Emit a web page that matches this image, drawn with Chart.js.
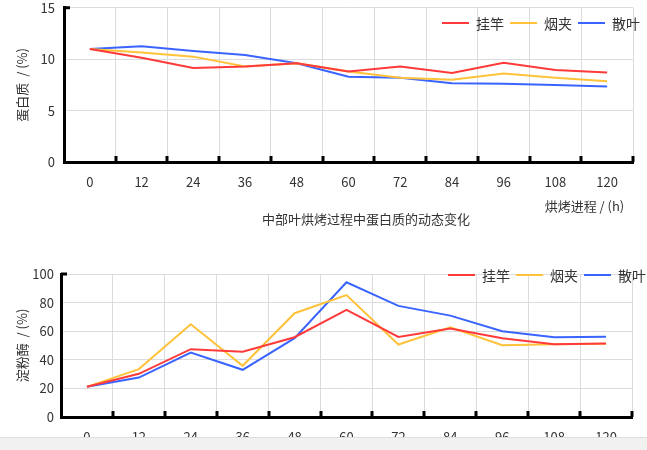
<!DOCTYPE html>
<html>
<head>
<meta charset="utf-8">
<script src="https://cdn.jsdelivr.net/npm/chart.js@4/dist/chart.umd.min.js"></script>
<style>
  body{margin:0;width:647px;height:450px;overflow:hidden;background:#fff;position:relative;font-family:'Noto Sans CJK SC',sans-serif;color:#333}
  canvas{position:absolute;left:0}
  #c1{top:-9px}
  #c2{top:230px}
  .legend{position:absolute;display:flex;align-items:center;font-size:14px;line-height:18px;white-space:nowrap}
  .legend .ln{display:inline-block;width:27px;height:2px;margin-right:7px}
  .legend .tx{margin-right:6px}
  #caption{position:absolute;left:262px;top:210px;font-size:13px;line-height:18px}
  #bar{position:absolute;left:0;top:437px;width:647px;height:13px;background:#f1f1f1;border-top:1px solid #dedede}
</style>
</head>
<body>
<canvas id="c1" width="647" height="239"></canvas>
<canvas id="c2" width="647" height="220"></canvas>
<div class="legend" id="lg1" style="left:442px;top:14px"></div>
<div class="legend" id="lg2" style="left:448px;top:266px"></div>
<div id="caption">中部叶烘烤过程中蛋白质的动态变化</div>
<div id="bar"></div>
<script>
const hours = ['0','12','24','36','48','60','72','84','96','108','120'];
const seriesNames = ['挂竿','烟夹','散叶'];
const seriesColors = ['#ff3a3a','#ffc23a','#3a64ff'];

// 蛋白质 (%)
const proteinGuagan = [11.0,10.15,9.15,9.3,9.6,8.8,9.3,8.65,9.65,8.95,8.7];
const proteinYanjia = [11.0,10.65,10.25,9.3,9.6,8.8,8.2,8.0,8.6,8.2,7.85];
const proteinSanye  = [11.0,11.25,10.8,10.4,9.6,8.3,8.2,7.65,7.6,7.5,7.35];

// 淀粉酶 (%)
const amylaseGuagan = [21.1,30.2,47.4,45.6,55.8,74.9,56.0,61.8,55.1,50.9,51.4];
const amylaseYanjia = [21.1,33.5,64.9,35.8,72.6,85.3,50.7,62.8,50.2,50.9,51.2];
const amylaseSanye  = [21.1,27.6,45.1,33.0,55.1,94.2,77.7,70.9,60.0,55.8,56.2];

const FONT = "'Noto Sans CJK SC', sans-serif";

// short black tick marks pointing into the plot, at category boundaries
const innerTicks = {
  id:'innerTicks',
  afterDraw(chart){
    const {ctx, chartArea:a} = chart;
    const n = chart.scales.x.ticks.length, w = a.width / n;
    ctx.save();
    ctx.strokeStyle = '#000'; ctx.lineWidth = 3;
    ctx.beginPath();
    for (let k = 1; k <= n; k++) { const x = Math.round(a.left + k*w); ctx.moveTo(x, a.bottom); ctx.lineTo(x, a.bottom - 6); }
    ctx.moveTo(a.left, a.top); ctx.lineTo(a.left + 6, a.top);
    ctx.stroke();
    ctx.restore();
  }
};

function legend(id){
  document.getElementById(id).innerHTML = seriesNames.map((s,i)=>`<span class="ln" style="background:${seriesColors[i]}"></span><span class="tx">${s}</span>`).join('');
}

function makeChart(id, sets, yMax, yStep, yTitle, xTitle, o){
  return new Chart(document.getElementById(id), {
    type:'line',
    data:{ labels: hours, datasets: sets.map((d,i)=>({ label: seriesNames[i], data: d, borderColor: seriesColors[i], backgroundColor: seriesColors[i], borderWidth: 2, pointRadius: 0, tension: 0 })) },
    options:{
      responsive:false, animation:false,
      layout:{ padding:{ left:0, right:o.right, top:o.top, bottom:o.bottom } },
      plugins:{ legend:{ display:false }, tooltip:{ enabled:false } },
      scales:{
        x:{ type:'category', offset:true,
            grid:{ offset:true, color:'#dcdcdc', lineWidth:1, drawTicks:false },
            border:{ color:'#000', width:3 },
            ticks:{ color:'#333', padding:12, font:{ family:FONT, size:13 }, maxRotation:0 },
            title:{ display: !!xTitle, text: xTitle, align:'end', color:'#333', padding:{ top:0, bottom:0 }, font:{ family:FONT, size:13 } },
            afterFit: s => { s.height = o.xh; } },
        y:{ min:0, max:yMax,
            grid:{ color:'#dcdcdc', lineWidth:1, drawTicks:false },
            border:{ color:'#000', width:3 },
            ticks:{ stepSize:yStep, color:'#333', padding:o.yp, font:{ family:FONT, size:13 } },
            title:{ display:true, text:yTitle, color:'#333', padding:{ top:14, bottom:0 }, font:{ family:FONT, size:13 } },
            afterFit: s => { s.width = o.yw; } }
      }
    },
    plugins:[innerTicks]
  });
}

makeChart('c1', [proteinGuagan, proteinYanjia, proteinSanye], 15, 5, '蛋白质  / (%)', '烘烤进程 / (h)   ',
  { right:14, top:0, bottom:16, xh:52, yw:64, yp:9 });
makeChart('c2', [amylaseGuagan, amylaseYanjia, amylaseSanye], 100, 20, '淀粉酶  / (%)', '',
  { right:15, top:44, bottom:0, xh:33, yw:61, yp:7 });
legend('lg1'); legend('lg2');
</script>
</body>
</html>
